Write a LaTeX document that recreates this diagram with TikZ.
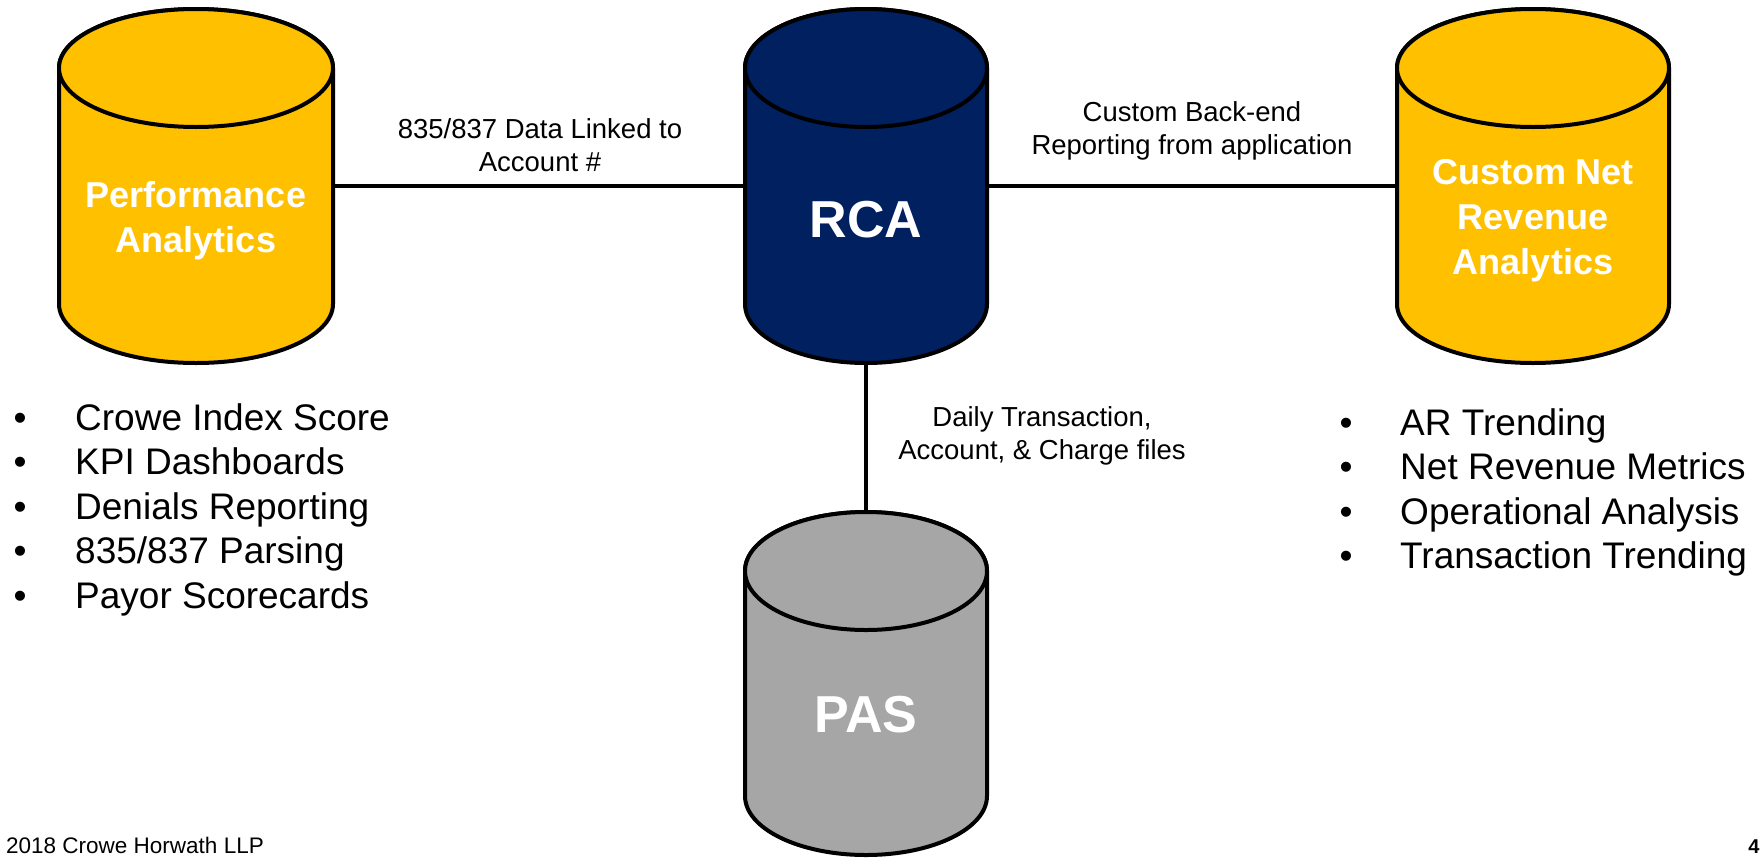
\documentclass[tikz,border=0pt]{standalone}
\usepackage{fontspec}
\setmainfont{Liberation Sans}
\definecolor{dbgold}{HTML}{FFC000}
\definecolor{dbnavy}{HTML}{002060}
\definecolor{dbgray}{HTML}{A6A6A6}
\tikzset{
  cylline/.style={line width=4pt, draw=black, line join=round},
  link/.style={line width=3.6pt, draw=black},
  dbtitle/.style={text=white, font=\bfseries\fontsize{36}{45}\selectfont, align=center, inner sep=0pt},
  dbbig/.style={text=white, font=\bfseries\fontsize{52}{60}\selectfont, inner sep=0pt, anchor=base},
  linklabel/.style={font=\fontsize{27.5}{33}\selectfont, align=center, inner sep=0pt},
  itemtext/.style={font=\fontsize{37}{44}\selectfont, inner sep=0pt, anchor=base west},
  itemdot/.style={font=\fontsize{37}{44}\selectfont, inner sep=0pt, anchor=base},
  pagefoot/.style={font=\fontsize{22.5}{26}\selectfont, inner sep=0pt},
}
% database drum: name, centre x, top y, bottom y, half width, fill colour
\newcommand{\drumdb}[6]{%
  \filldraw[cylline, fill=#6] (#2-#5,#3+59) -- (#2-#5,#4-59)
     arc[start angle=180, end angle=360, x radius=#5pt, y radius=59pt]
     -- (#2+#5,#3+59)
     arc[start angle=0, end angle=180, x radius=#5pt, y radius=59pt] -- cycle;
  \draw[cylline, fill=#6] (#2,#3+59) ellipse[x radius=#5pt, y radius=59pt];
  \node[inner sep=0pt, minimum width={2*#5pt}, minimum height={(#4-#3)*1pt}] (#1) at (#2,{(#3+#4)/2}) {};
}
\begin{document}
\begin{tikzpicture}[x=1pt, y=-1pt]
\useasboundingbox (0,0) rectangle (1764,857);

% the four data stores
\drumdb{pa}{196}{9}{363}{137}{dbgold}
\drumdb{rca}{866}{9}{363}{121}{dbnavy}
\drumdb{cnr}{1533}{9}{363}{136}{dbgold}
\drumdb{pas}{866}{512}{855}{121}{dbgray}

\node[dbtitle] (patext) at (196,221) {Performance\\Analytics};
\node[dbbig] (rcatext) at (866,237) {RCA};
\node[dbtitle] (cnrtext) at (1533,220.6) {Custom Net\\Revenue\\Analytics};
\node[dbbig] (pastext) at (866,732) {PAS};

% links between the stores
\draw[link] (pa.east) -- (rca.west);
\draw[link] (rca.east) -- (cnr.west);
\draw[link] (rca.south) -- (pas.north);

\node[linklabel] (lab1) at (540,145) {835/837 Data Linked to\\Account \#};
\node[linklabel] (lab2) at (1192,131) {Custom Back-end\\Reporting from application};
\node[linklabel] (lab3) at (1042,436) {Daily Transaction,\\Account, \& Charge files};

% feature lists
\foreach \t [count=\i] in {Crowe Index Score, KPI Dashboards, Denials Reporting, 835/837 Parsing, Payor Scorecards}{
  \node[itemdot] (ldot\i) at (20,{430+44.5*(\i-1)}) {•};
  \node[itemtext] (litem\i) at (75,{430+44.5*(\i-1)}) {\t};
}
\foreach \t [count=\i] in {AR Trending, Net Revenue Metrics, Operational Analysis, Transaction Trending}{
  \node[itemdot] (rdot\i) at (1346,{435+44.5*(\i-1)}) {•};
  \node[itemtext] (ritem\i) at (1400,{435+44.5*(\i-1)}) {\t};
}

% footer
\node[pagefoot, anchor=base west] (copy) at (6,853) {2018 Crowe Horwath LLP};
\node[pagefoot, anchor=base, font=\bfseries\fontsize{20}{24}\selectfont] (pageno) at (1754,853) {4};
\end{tikzpicture}
\end{document}
